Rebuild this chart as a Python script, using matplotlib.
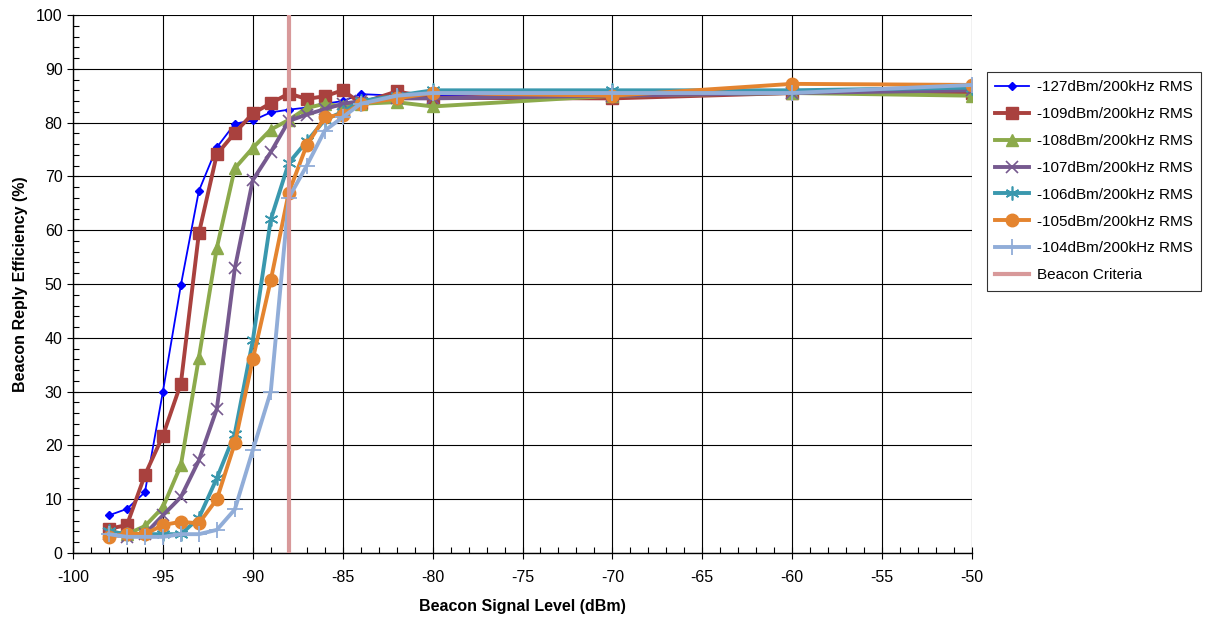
import matplotlib
matplotlib.use("Agg")
import matplotlib.pyplot as plt
from matplotlib.ticker import MultipleLocator

plt.rcParams['font.family'] = ['Liberation Sans', 'DejaVu Sans']
plt.rcParams['axes.unicode_minus'] = False

x = [-98, -97, -96, -95, -94, -93, -92, -91, -90, -89, -88, -87, -86, -85, -84, -82, -80, -70, -60, -50]

s127 = [7.0, 8.2, 11.3, 30.0, 49.8, 67.3, 75.4, 79.8, 80.4, 81.9, 82.4, 82.8, 83.5, 84.0, 85.3, 85.0, 85.0, 85.5, 86.0, 86.5]
s109 = [4.5, 5.2, 14.5, 21.8, 31.5, 59.4, 74.1, 78.1, 81.7, 83.6, 85.4, 84.4, 84.9, 86.0, 83.6, 85.8, 84.6, 84.5, 85.5, 85.5]
s108 = [4.0, 3.5, 5.0, 8.5, 16.3, 36.3, 56.7, 71.5, 75.3, 78.7, 80.5, 82.7, 83.5, 83.0, 83.5, 83.8, 83.0, 85.0, 85.5, 85.0]
s107 = [3.5, 3.0, 3.5, 7.0, 10.4, 17.2, 26.8, 52.9, 69.3, 74.5, 80.3, 81.5, 82.5, 83.5, 84.0, 84.5, 84.5, 85.0, 85.5, 86.0]
s106 = [4.0, 3.5, 3.5, 3.5, 3.5, 6.5, 13.9, 22.2, 39.5, 62.0, 72.5, 76.5, 80.5, 82.0, 84.0, 85.0, 86.0, 86.0, 86.0, 86.5]
s105 = [3.0, 3.6, 3.5, 5.2, 5.8, 5.5, 10.0, 20.4, 36.0, 50.7, 67.0, 75.8, 81.0, 81.5, 83.5, 84.5, 85.5, 85.0, 87.2, 87.0]
s104 = [3.5, 3.0, 3.0, 3.0, 3.5, 3.5, 4.3, 8.1, 19.1, 30.0, 66.0, 72.0, 78.5, 81.0, 83.5, 85.0, 85.5, 85.5, 85.5, 87.0]

labels = ['-127dBm/200kHz RMS', '-109dBm/200kHz RMS', '-108dBm/200kHz RMS',
          '-107dBm/200kHz RMS', '-106dBm/200kHz RMS', '-105dBm/200kHz RMS',
          '-104dBm/200kHz RMS']
criteria_x = [-88, -88]
criteria_y = [0, 100]

fig = plt.figure(figsize=(12.1, 6.19), dpi=100)
ax = fig.add_axes([73/1210, 1-553/619, (972-73)/1210, (553-15)/619])

styles = [
    dict(color='#0000FF', marker='D', ms=4.5, lw=1.3),
    dict(color='#A9413E', marker='s', ms=9, lw=2.8),
    dict(color='#8CAA4B', marker='^', ms=9, lw=2.8),
    dict(color='#76598F', marker='x', ms=9, lw=2.8, mew=1.2),
    dict(color='#3A98AE', marker=(6, 2, 0), ms=10, lw=2.8, mew=1.2),
    dict(color='#E4842F', marker='o', ms=9, lw=2.8),
    dict(color='#91ADD8', marker='+', ms=11, lw=2.8, mew=1.3),
]
series = [s127, s109, s108, s107, s106, s105, s104]
for ys, lab, st in zip(series, labels, styles):
    ax.plot(x, ys, label=lab, color=st['color'], marker=st['marker'], ms=st['ms'],
            lw=st['lw'], mew=st.get('mew', 1), zorder=3)

ax.plot(criteria_x, criteria_y, color='#D8999A', lw=3, label='Beacon Criteria', zorder=4)

ax.set_xlim(-100, -50)
ax.set_ylim(0, 100)
ax.xaxis.set_major_locator(MultipleLocator(5))
ax.xaxis.set_minor_locator(MultipleLocator(1))
ax.yaxis.set_major_locator(MultipleLocator(10))
ax.yaxis.set_minor_locator(MultipleLocator(2))
ax.grid(True, which='major', color='black', lw=0.8, zorder=0)
ax.tick_params(which='major', direction='inout', length=8, width=0.8, labelsize=11.5)
ax.tick_params(axis='x', which='major', pad=8)
ax.tick_params(which='minor', direction='in', length=4, width=0.8)
for sp in ['top', 'right']:
    ax.spines[sp].set_visible(False)
for sp in ['left', 'bottom']:
    ax.spines[sp].set_color('black')
    ax.spines[sp].set_linewidth(1)

ax.set_xlabel('Beacon Signal Level (dBm)', fontsize=11.5, fontweight='bold', labelpad=10)
ax.set_ylabel('Beacon Reply Efficiency (%)', fontsize=11.5, fontweight='bold', labelpad=6)

leg = fig.legend(loc='upper left', bbox_to_anchor=(987/1210, 1-72/619), fontsize=11,
                 frameon=True, fancybox=False, edgecolor='black', handlelength=2.2,
                 labelspacing=0.84, borderpad=0.55, handletextpad=0.5, borderaxespad=0)
leg.get_frame().set_linewidth(0.8)

fig.savefig('out.png', dpi=100)
